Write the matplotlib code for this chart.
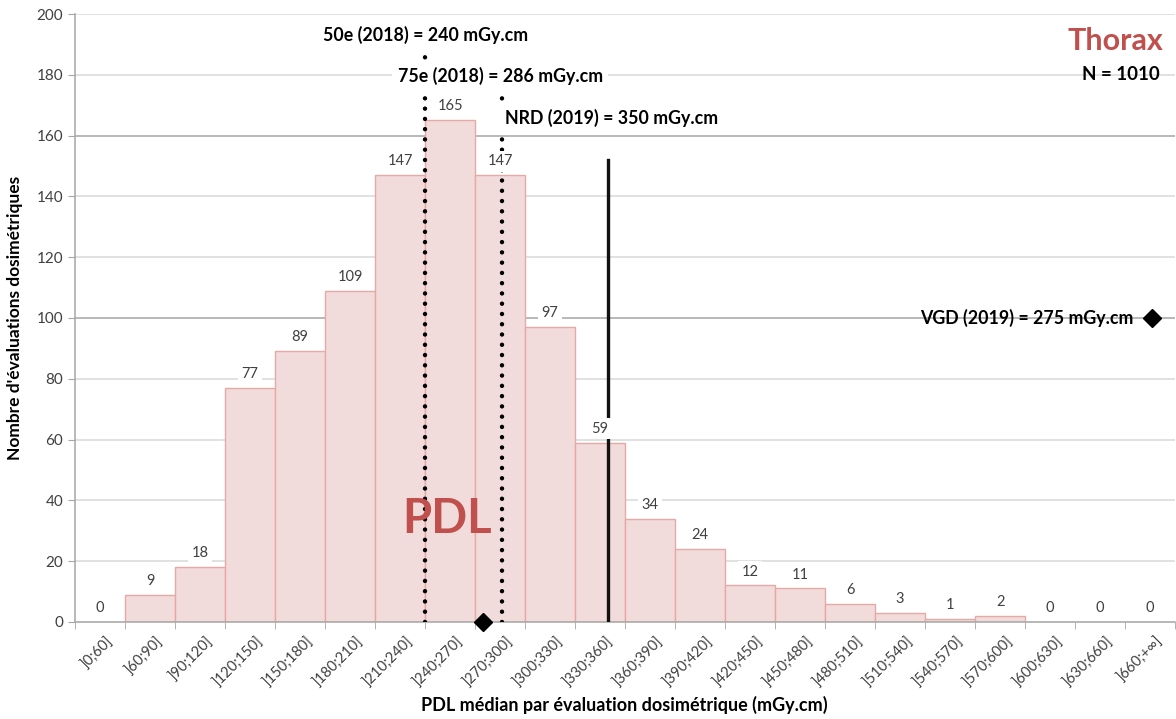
import matplotlib
matplotlib.use("Agg")
import matplotlib.pyplot as plt
import matplotlib.transforms as mtransforms
import numpy as np

plt.rcParams['font.family'] = ['Lato', 'DejaVu Sans']

categories = [']0;60]', ']60;90]', ']90;120]', ']120;150]', ']150;180]', ']180;210]',
              ']210;240]', ']240;270]', ']270;300]', ']300;330]', ']330;360]', ']360;390]',
              ']390;420]', ']420;450]', ']450;480]', ']480;510]', ']510;540]', ']540;570]',
              ']570;600]', ']600;630]', ']630;660]', ']660;+∞]']
counts = [0, 9, 18, 77, 89, 109, 147, 165, 147, 97, 59, 34, 24, 12, 11, 6, 3, 1, 2, 0, 0, 0]

p50_value = 240
p75_value = 286
nrd_value = 350
vgd_value = 275
n_total = 1010


def to_axis(v):
    """Map a dose (mGy.cm) onto the class-index axis (first class spans 0-60)."""
    if v <= 60:
        return v / 60.0
    return 1.0 + (v - 60) / 30.0


fig = plt.figure(figsize=(11.76, 7.19), dpi=100)
ax = fig.add_axes([0.0638, 0.135, 0.9355, 0.8455])

x = np.arange(len(categories)) + 0.5
ax.set_xlim(0, len(categories))
ax.set_ylim(0, 200)

# grid
ax.set_yticks(np.arange(0, 201, 20))
for y in np.arange(20, 201, 20):
    col = '#a6a6a6' if y in (100, 160) else '#d9d9d9'
    ax.axhline(y, color=col, lw=1.1, zorder=0)

ax.bar(x, counts, width=1.0, color='#f2dcdb', edgecolor='#e6a9a7', linewidth=1.0, zorder=1)

# reference lines
ax.plot([to_axis(p50_value)] * 2, [0, 187.5], color='black', lw=3.2,
        linestyle=(0, (0.01, 2.3)), dash_capstyle='round', zorder=3)
ax.plot([to_axis(p75_value)] * 2, [0, 175.5], color='black', lw=3.2,
        linestyle=(0, (0.01, 2.3)), dash_capstyle='round', zorder=3)
ax.plot([to_axis(nrd_value)] * 2, [0, 152], color='#111111', lw=2.4, zorder=3)
ax.plot([to_axis(vgd_value)], [0], marker='D', color='black', markersize=9,
        zorder=6, clip_on=False)
ax.plot([21.54], [100], marker='D', color='black', markersize=9, zorder=6)

# value labels
for xi, c in zip(x, counts):
    ax.annotate(f'{c}', (xi, c), xytext=(0, 5), textcoords='offset points',
                ha='center', va='bottom', fontsize=10.5, color='#404040', zorder=5,
                bbox=dict(boxstyle='square,pad=0.25', fc='white', ec='none'))

bold_kw = dict(fontsize=12.8, fontweight='bold', color='black', zorder=5)
ax.text(to_axis(p50_value), 193, f'50e (2018) = {p50_value} mGy.cm', ha='center', va='center',
        bbox=dict(boxstyle='square,pad=0.2', fc='white', ec='none'), **bold_kw)
ax.text(to_axis(p75_value) - 0.03, 179.5, f'75e (2018) = {p75_value} mGy.cm', ha='center',
        va='center', bbox=dict(boxstyle='square,pad=0.3', fc='white', ec='none'), **bold_kw)
ax.text(to_axis(p75_value) + 0.06, 165.8, f'NRD (2019) = {nrd_value} mGy.cm', ha='left',
        va='center', bbox=dict(boxstyle='square,pad=0.35', fc='white', ec='none'), **bold_kw)
ax.text(21.16, 100, f'VGD (2019) = {vgd_value} mGy.cm', ha='right', va='center', **bold_kw)
ax.text(21.76, 191, 'Thorax', ha='right', va='center', fontsize=22, fontweight='bold',
        color='#c0504d', zorder=5)
ax.text(21.7, 180, f'N = {n_total}', ha='right', va='center', fontsize=13.5,
        fontweight='bold', color='black', zorder=5)
ax.text(7.44, 34, 'PDL', ha='center', va='center', fontsize=34, fontweight='bold',
        color='#c0504d', zorder=4)

# axes styling
for side in ('top', 'right'):
    ax.spines[side].set_visible(False)
ax.spines['left'].set_color('#a6a6a6')
ax.spines['bottom'].set_color('#a6a6a6')
ax.spines['left'].set_linewidth(1.1)
ax.spines['bottom'].set_linewidth(1.1)

ax.set_xticks(x)
ax.set_xticklabels(categories, rotation=45, ha='right', rotation_mode='anchor',
                   fontsize=10.5, color='#404040')
ax.tick_params(axis='x', which='major', length=0, pad=9)
shift = mtransforms.ScaledTranslation(6 / 100, 0, fig.dpi_scale_trans)
for lbl in ax.get_xticklabels():
    lbl.set_transform(lbl.get_transform() + shift)
ax.set_xticks(np.arange(0, len(categories) + 1), minor=True)
ax.tick_params(axis='x', which='minor', length=5, color='#a6a6a6', direction='out')
ax.tick_params(axis='y', length=5, color='#a6a6a6', labelsize=11, labelcolor='#404040')

fig.text(0.531, 0.019, 'PDL médian par évaluation dosimétrique (mGy.cm)', fontsize=13,
         fontweight='bold', ha='center', va='center')
ax.set_ylabel("Nombre d'évaluations dosimétriques", fontsize=12.5, fontweight='bold',
              labelpad=10)

fig.savefig('out.png', dpi=100)
